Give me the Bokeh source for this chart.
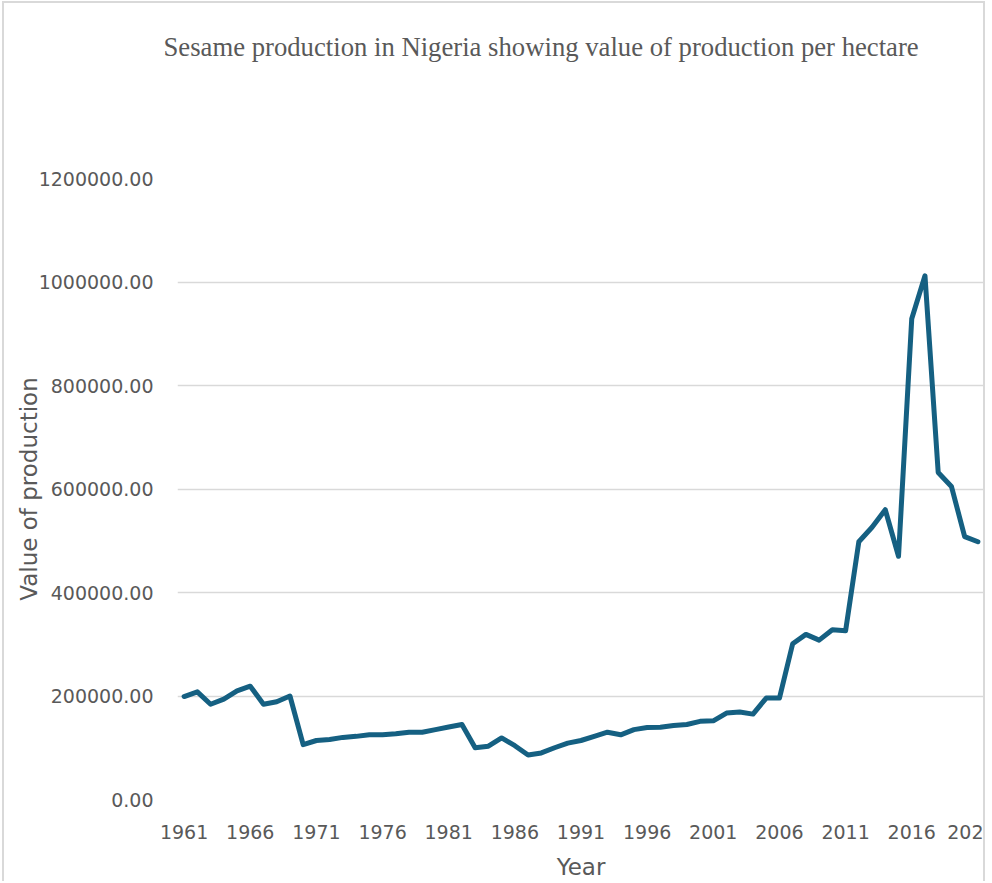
from bokeh.plotting import figure
from bokeh.models import Range1d, FixedTicker, NumeralTickFormatter, Title
from bokeh.embed import file_html
from bokeh.resources import INLINE

years = list(range(1961, 2022))
values = [
    199000, 208000, 184000, 194000, 210000, 219000, 184000, 189000, 200000, 106000,
    114000, 116000, 120000, 122000, 125000, 125000, 127000, 130000, 130000, 135000,
    140000, 145000, 100000, 103000, 119000, 104000, 86000, 90000, 100000, 109000,
    114000, 122000, 130000, 125000, 135000, 139000, 139500, 143000, 145000, 151000,
    152000, 167000, 169000, 165000, 196000, 196000, 301000, 319000, 308000, 328000,
    326000, 498000, 526000, 560000, 470000, 929000, 1012000, 632000, 605000, 508000,
    498000,
]
x_tick_years = list(range(1961, 2022, 5))
y_ticks = [0, 200000, 400000, 600000, 800000, 1000000, 1200000]

title_text = "Sesame production in Nigeria showing value of production per hectare"
x_label = "Year"
y_label = "Value of production"

GREY = "#595959"
LINE = "#156082"
GRID = "#d9d9d9"

p = figure(
    width=983, height=880,
    output_backend="svg", toolbar_location=None,
    x_range=Range1d(1960.5, 2021.5), y_range=Range1d(0, 1200000),
    min_border_left=173, min_border_right=3, min_border_top=175, min_border_bottom=84,
)
p.styles = {"margin-left": "2px", "margin-top": "1px",
            "border-left": "2px solid #d9d9d9", "border-top": "2px solid #d9d9d9",
            "border-right": "2px solid #d9d9d9"}

p.line(years, values, line_color=LINE, line_width=5, line_join="round", line_cap="round")

# main title (outermost panel)
p.title.text = title_text
p.title.align = "left"
p.title.offset = -14
p.title.vertical_align = "bottom"
p.title.text_font = "Liberation Serif"
p.title.text_font_size = "26.7px"
p.title.text_font_style = "normal"
p.title.text_color = GREY
p.title.standoff = 0

# spacer between the chart title and the plot area
spacer = Title(text=" ", text_font_size="10px", standoff=104)
p.add_layout(spacer, "above")

p.outline_line_color = None
p.background_fill_color = "white"
p.border_fill_color = "white"

p.xgrid.grid_line_color = None
p.ygrid.grid_line_color = GRID
p.ygrid.grid_line_width = 1.5

p.xaxis.ticker = FixedTicker(ticks=x_tick_years)
p.xaxis.major_label_overrides = {2021: "202"}
p.yaxis.ticker = FixedTicker(ticks=y_ticks)
p.yaxis.formatter = NumeralTickFormatter(format="0.00")

for ax in (p.xaxis[0], p.yaxis[0]):
    ax.axis_line_color = None
    ax.major_tick_line_color = None
    ax.minor_tick_line_color = None
    ax.major_label_text_color = GREY
    ax.major_label_text_font = "DejaVu Sans"
    ax.major_label_text_font_size = "19px"
    ax.axis_label_text_color = GREY
    ax.axis_label_text_font = "DejaVu Sans"
    ax.axis_label_text_font_size = "23px"
    ax.axis_label_text_font_style = "normal"

p.xaxis.axis_label = x_label
p.yaxis.axis_label = y_label
p.xaxis.major_label_standoff = 19
p.yaxis.major_label_standoff = 18
p.xaxis.axis_label_standoff = 12
p.yaxis.axis_label_standoff = -6

open("out.html", "w").write(file_html(p, INLINE))
